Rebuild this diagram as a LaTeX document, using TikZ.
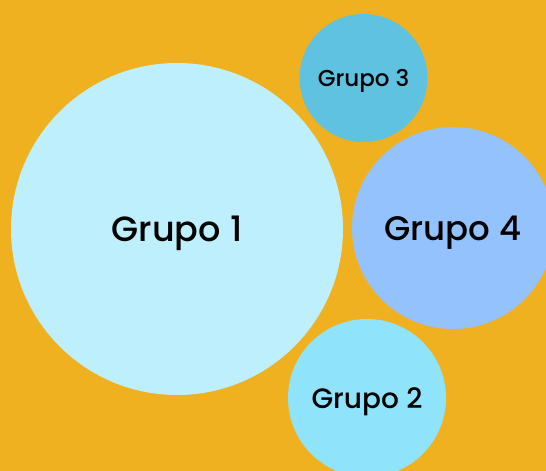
\documentclass[tikz,border=0pt]{standalone}
\usepackage{fontspec}
\setmainfont{Poppins}[UprightFont={* Medium}]
\usetikzlibrary{positioning}
\definecolor{fondo}{HTML}{F0B121}
\definecolor{gA}{HTML}{BDEFFD}
\definecolor{gB}{HTML}{8FE3FA}
\definecolor{gC}{HTML}{5EC2E0}
\definecolor{gD}{HTML}{94C2FD}
\tikzset{grupo/.style={circle,inner sep=0pt,text depth=0pt,text=black}}

\begin{document}
\begin{tikzpicture}[x=1pt,y=-1pt]
          \fill[fondo] (0,0) rectangle (546,471); %fondo
          \useasboundingbox (0,0) rectangle (546,471);
          \node[grupo,fill=gA,minimum size=332pt,font=\fontsize{35}{40}\selectfont] (g1) at (177,229) {Grupo 1};
          \node[grupo,fill=gC,minimum size=128pt,font=\fontsize{23}{28}\selectfont] (g3) at (363.5,78) {Grupo 3};
          \node[grupo,fill=gD,minimum size=202pt,font=\fontsize{34}{40}\selectfont] (g4) at (453,228) {Grupo 4};
          \node[grupo,fill=gB,minimum size=158pt,font=\fontsize{28}{32}\selectfont] (g2) at (367,398) {Grupo 2};
      \end{tikzpicture}
\end{document}
